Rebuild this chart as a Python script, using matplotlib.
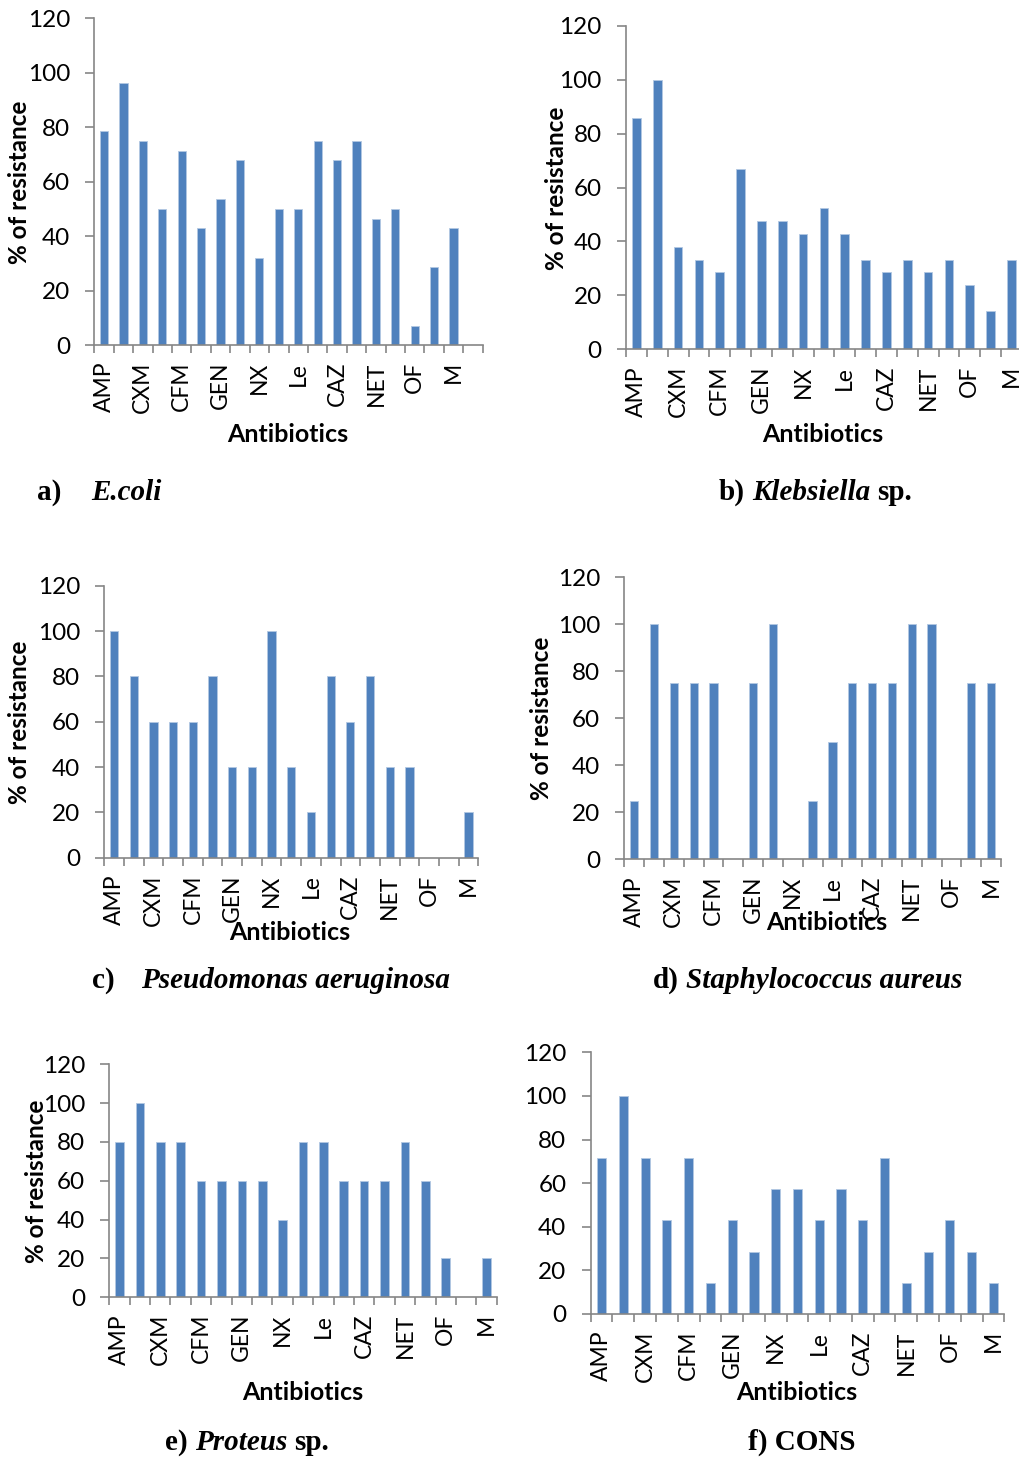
import matplotlib.pyplot as plt
from matplotlib.ticker import FixedLocator, NullFormatter

W, H = 1020, 1457

# antibiotics, only every other category carries a label
drugs = ['AMP', 'CXM', 'CFM', 'GEN', 'NX', 'Le', 'CAZ', 'NET', 'OF', 'M']

# % of resistance per antibiotic (19 antibiotics)
ecoli = [78.6, 96.4, 75, 50, 71.4, 42.9, 53.6, 67.9, 32.1, 50, 50, 75, 67.9, 75, 46.4, 50, 7.1, 28.6, 42.9]
klebsiella = [85.7, 100, 38.1, 33.3, 28.6, 66.7, 47.6, 47.6, 42.9, 52.4, 42.9, 33.3, 28.6, 33.3, 28.6, 33.3, 23.8, 14.3, 33.3]
pseudomonas = [100, 80, 60, 60, 60, 80, 40, 40, 100, 40, 20, 80, 60, 80, 40, 40, 0, 0, 20]
staph = [25, 100, 75, 75, 75, 0, 75, 100, 0, 25, 50, 75, 75, 75, 100, 100, 0, 75, 75]
proteus = [80, 100, 80, 80, 60, 60, 60, 60, 40, 80, 80, 60, 60, 60, 80, 60, 20, 0, 20]
cons = [71.4, 100, 71.4, 42.9, 71.4, 14.3, 42.9, 28.6, 57.1, 57.1, 42.9, 57.1, 42.9, 71.4, 14.3, 28.6, 42.9, 28.6, 14.3]

BLUE = '#4f81bd'
GREY = '#868686'
SANS = 'Lato'
SERIF = 'Liberation Serif'

fig = plt.figure(figsize=(W / 100, H / 100), dpi=100)


def px_axes(left, top, right, bottom):
    return fig.add_axes([left / W, 1 - bottom / H, (right - left) / W, (bottom - top) / H])


def ftext(x, y, s, **kw):
    return fig.text(x / W, 1 - y / H, s, **kw)


# (values, number of category slots, axes box in px, y-label centre, x-label centre)
layout = [
    (ecoli, 20, (94.3, 18.3, 482.7, 345.0), (20, 182), (288, 435)),
    (klebsiella, 20, (626.0, 25.7, 1042.7, 349.3), (557, 188), (823, 435)),
    (pseudomonas, 19, (104.3, 585.7, 478.3, 857.7), (20, 722), (290, 933)),
    (staph, 19, (624.3, 577.3, 1001.0, 859.3), (542, 718), (827, 923)),
    (proteus, 19, (109.3, 1064.3, 496.7, 1297.3), (37, 1181), (303, 1392)),
    (cons, 19, (590.7, 1052.3, 1004.3, 1314.0), None, (797, 1392)),
]

for vals, n, box, ylab, xlab in layout:
    ax = px_axes(*box)
    ax.patch.set_visible(False)
    ax.bar(range(len(vals)), vals, width=0.42, color=BLUE, edgecolor='#b3c8e2', linewidth=0.6)
    ax.set_xlim(-0.5, n - 0.5)
    ax.set_ylim(0, 120)
    for s in ['top', 'right']:
        ax.spines[s].set_visible(False)
    for s in ['left', 'bottom']:
        ax.spines[s].set_color(GREY)
        ax.spines[s].set_linewidth(1.2)
    ax.set_yticks(range(0, 121, 20))
    ax.tick_params(axis='y', length=6.5, width=1.2, color=GREY, pad=11, labelsize=17.5)
    ax.xaxis.set_major_locator(FixedLocator(list(range(0, 2 * len(drugs), 2))))
    ax.set_xticklabels(drugs, rotation=90)
    ax.xaxis.set_minor_locator(FixedLocator([i - 0.5 for i in range(n + 1)]))
    ax.xaxis.set_minor_formatter(NullFormatter())
    ax.tick_params(axis='x', which='major', length=0, pad=12, labelsize=16.5)
    ax.tick_params(axis='x', which='minor', length=6, width=1.2, color=GREY)
    for lab in ax.get_xticklabels() + ax.get_yticklabels():
        lab.set_family(SANS)
    if ylab:
        ftext(ylab[0], ylab[1], '% of resistance', rotation=90, ha='center', va='center',
              family=SANS, weight='bold', fontsize=17.5)
    ftext(xlab[0], xlab[1], 'Antibiotics', ha='center', va='center',
          family=SANS, weight='bold', fontsize=18)

# panel captions: (start x, baseline y, pieces of (text, style, gap before in px))
captions = [
    (37, 500, [('a)', 'normal', 0), ('E.coli', 'italic', 30)]),
    (719, 500, [('b)', 'normal', 0), ('Klebsiella', 'italic', 7), ('sp.', 'normal', 7)]),
    (92, 988, [('c)', 'normal', 0), ('Pseudomonas aeruginosa', 'italic', 26)]),
    (653, 988, [('d)', 'normal', 0), ('Staphylococcus aureus', 'italic', 7)]),
    (165, 1450, [('e)', 'normal', 0), ('Proteus', 'italic', 7), ('sp.', 'normal', 7)]),
    (748, 1450, [('f) CONS', 'normal', 0)]),
]

renderer = fig.canvas.get_renderer()
for x, y, pieces in captions:
    for text, style, gap in pieces:
        x += gap
        t = ftext(x, y, text, family=SERIF, weight='bold', style=style, fontsize=21, va='baseline')
        x = t.get_window_extent(renderer).x1

fig.savefig('out.png', dpi=100)
